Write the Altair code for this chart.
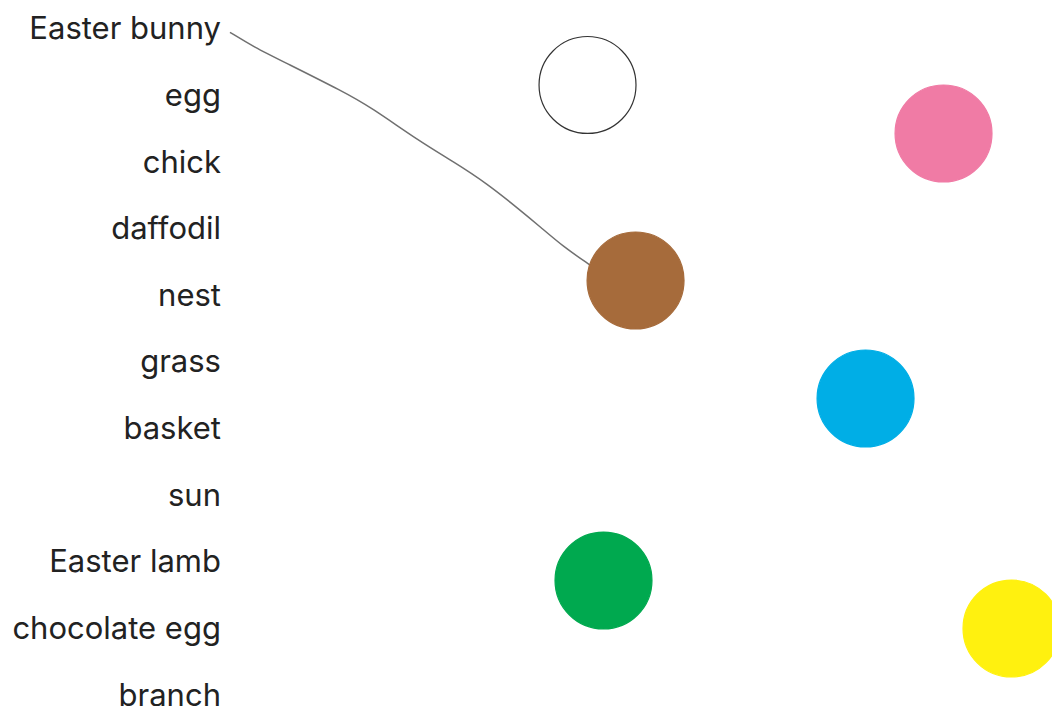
import altair as alt
import pandas as pd

# Words (rows, top to bottom)
words = ["Easter bunny", "egg", "chick", "daffodil", "nest", "grass",
         "basket", "sun", "Easter lamb", "chocolate egg", "branch"]

# Circles: horizontal position (0-100 units), vertical position (row units), colour
circle_names = ["white", "pink", "brown", "blue", "green", "yellow"]
circle_x = [55.51, 89.61, 60.11, 82.14, 57.04, 96.12]
circle_row = [0.841, 1.569, 3.776, 5.548, 8.281, 9.002]
circle_fill = ["#FFFFFF", "#F07BA5", "#A66B3B", "#00AEE6", "#00A94F", "#FFF10F"]
circle_stroke = ["#333333", "#F07BA5", "#A66B3B", "#00AEE6", "#00A94F", "#FFF10F"]

# Hand-drawn matching line (Easter bunny -> brown circle)
line_x = [21.26, 23.50, 26.69, 32.11, 34.67, 39.46, 42.66, 45.85, 49.04, 50.96, 53.19, 55.75]
line_row = [0.050, 0.266, 0.515, 0.941, 1.166, 1.692, 1.992, 2.317, 2.718, 2.968, 3.269, 3.544]

label_x = 20.40

W, H = 1044, 698

xs = alt.Scale(domain=[0, 100], nice=False, zero=False)
ys = alt.Scale(domain=[-0.315, 10.165], nice=False, zero=False, reverse=True)

words_df = pd.DataFrame({"word": words, "row": list(range(len(words))),
                         "x": [label_x] * len(words)})
circ_df = pd.DataFrame({"name": circle_names, "x": circle_x, "row": circle_row,
                        "fill": circle_fill, "stroke": circle_stroke})
line_df = pd.DataFrame({"x": line_x, "row": line_row, "order": list(range(len(line_x)))})

text = alt.Chart(words_df).mark_text(
    align="right", baseline="middle", fontSize=31, font="Inter", color="#222222", dy=1.5
).encode(
    x=alt.X("x:Q", scale=xs, axis=None),
    y=alt.Y("row:Q", scale=ys, axis=None),
    text="word:N",
)

circles = alt.Chart(circ_df).mark_point(
    shape="circle", filled=True, size=9400, strokeWidth=1.2, opacity=1
).encode(
    x=alt.X("x:Q", scale=xs, axis=None),
    y=alt.Y("row:Q", scale=ys, axis=None),
    fill=alt.Fill("fill:N", scale=None),
    stroke=alt.Stroke("stroke:N", scale=None),
)

line = alt.Chart(line_df).mark_line(
    interpolate="basis", color="#707070", strokeWidth=1.5
).encode(
    x=alt.X("x:Q", scale=xs, axis=None),
    y=alt.Y("row:Q", scale=ys, axis=None),
    order="order:Q",
)

chart = alt.layer(text, line, circles).properties(
    width=W, height=H, padding=0, autosize=alt.AutoSizeParams(type="none"),
    background="white"
).configure_view(stroke=None)

chart.save("out.html", embed_options={"renderer": "svg", "actions": False})
